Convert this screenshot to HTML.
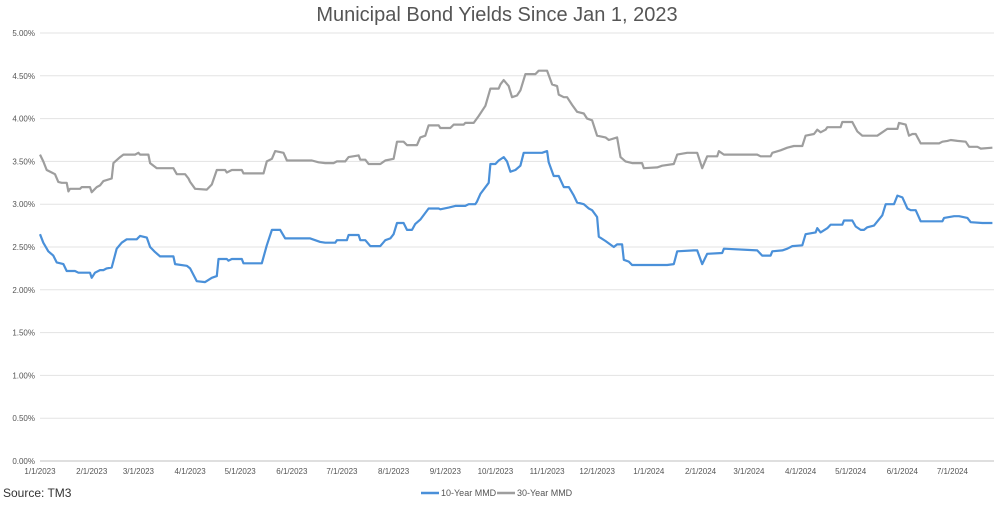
<!DOCTYPE html>
<html><head><meta charset="utf-8"><style>
body{margin:0;background:#fff;font-family:"Liberation Sans",sans-serif}
svg text{font-family:"Liberation Sans",sans-serif}
</style></head><body>
<svg id="c" width="994" height="500">
<text x="497" y="21" text-anchor="middle" font-size="20" fill="#555">Municipal Bond Yields Since Jan 1, 2023</text>
<g id="grid"></g><g id="xt"></g><g id="lines"></g>
<text x="3" y="497" font-size="12" fill="#333">Source: TM3</text>
<g>
<line x1="421" y1="493" x2="439" y2="493" stroke="#4a90d9" stroke-width="2.5"/>
<text x="441" y="496" font-size="9" fill="#555">10-Year MMD</text>
<line x1="497" y1="493" x2="515" y2="493" stroke="#9e9e9e" stroke-width="2.5"/>
<text x="517" y="496" font-size="9" fill="#555">30-Year MMD</text>
</g>
</svg>
<script>
const yTicks=[0,0.5,1,1.5,2,2.5,3,3.5,4,4.5,5];
const xTickDays=[0,31,59,90,120,151,181,212,243,273,304,334,365,396,425,456,486,517,547];
const xTickLabels=["1/1/2023","2/1/2023","3/1/2023","4/1/2023","5/1/2023","6/1/2023","7/1/2023","8/1/2023","9/1/2023","10/1/2023","11/1/2023","12/1/2023","1/1/2024","2/1/2024","3/1/2024","4/1/2024","5/1/2024","6/1/2024","7/1/2024"];
const tenDays=[0,2,5,8,10,14,16,21,23,30,31,33,36,38,40,43,46,49,52,58,60,64,66,69,72,80,81,88,90,94,99,103,106,107,112,113,115,121,122,133,136,139,144,147,162,168,171,177,178,184,185,191,192,195,198,204,207,210,212,214,218,220,223,225,228,233,239,240,245,249,255,257,261,262,264,269,270,273,275,278,280,282,285,288,290,301,304,305,308,311,314,317,320,322,326,329,331,334,335,339,344,346,349,350,353,355,376,380,382,392,394,397,400,409,410,430,433,438,439,445,448,451,457,459,465,466,468,472,474,481,482,487,489,492,494,496,500,505,507,512,514,517,520,522,525,528,541,542,548,551,556,558,565,571];
const tenVals=[2.65,2.55,2.45,2.40,2.32,2.30,2.22,2.22,2.20,2.20,2.14,2.20,2.23,2.23,2.25,2.26,2.48,2.55,2.59,2.59,2.63,2.61,2.50,2.44,2.39,2.39,2.30,2.28,2.25,2.10,2.09,2.14,2.16,2.36,2.36,2.34,2.36,2.36,2.31,2.31,2.52,2.70,2.70,2.60,2.60,2.56,2.55,2.55,2.58,2.58,2.64,2.64,2.58,2.58,2.51,2.51,2.58,2.60,2.65,2.78,2.78,2.70,2.70,2.77,2.82,2.95,2.95,2.94,2.96,2.98,2.98,3.00,3.00,3.03,3.12,3.25,3.47,3.47,3.51,3.55,3.50,3.38,3.40,3.45,3.60,3.60,3.62,3.49,3.33,3.33,3.20,3.20,3.10,3.02,3.00,2.95,2.93,2.85,2.62,2.57,2.50,2.53,2.53,2.35,2.33,2.29,2.29,2.30,2.45,2.46,2.46,2.30,2.42,2.43,2.48,2.46,2.40,2.40,2.45,2.46,2.48,2.51,2.52,2.65,2.67,2.72,2.67,2.72,2.76,2.76,2.81,2.81,2.74,2.70,2.70,2.73,2.75,2.87,3.00,3.00,3.10,3.08,2.95,2.93,2.93,2.80,2.80,2.84,2.86,2.86,2.84,2.79,2.78,2.78];
const thirtyDays=[0,2,4,7,9,11,13,16,17,18,24,25,30,31,34,36,38,43,44,48,50,57,59,60,65,66,70,80,82,87,89,90,93,100,103,106,111,112,115,121,122,134,136,139,141,146,148,163,167,171,176,178,183,185,191,192,195,197,204,207,212,214,218,220,226,228,231,233,239,240,246,248,254,255,260,263,267,270,275,276,278,281,283,286,288,291,297,299,304,307,310,311,314,316,319,322,326,328,331,334,339,341,346,348,351,355,361,362,370,373,380,382,388,392,394,397,400,406,407,410,430,432,438,439,444,448,452,457,459,464,466,468,471,472,480,481,487,490,493,502,505,508,514,515,519,521,523,525,528,539,541,544,546,550,555,557,562,564,571];
const thirtyVals=[3.58,3.50,3.40,3.37,3.35,3.26,3.25,3.25,3.15,3.18,3.18,3.20,3.20,3.14,3.20,3.22,3.27,3.30,3.48,3.55,3.58,3.58,3.60,3.58,3.58,3.48,3.42,3.42,3.35,3.35,3.30,3.26,3.18,3.17,3.23,3.40,3.40,3.37,3.40,3.40,3.36,3.36,3.50,3.53,3.62,3.60,3.51,3.51,3.49,3.48,3.48,3.50,3.50,3.55,3.57,3.52,3.52,3.47,3.47,3.51,3.53,3.73,3.73,3.69,3.69,3.78,3.80,3.92,3.92,3.89,3.89,3.93,3.93,3.95,3.95,4.03,4.15,4.35,4.35,4.40,4.45,4.38,4.25,4.27,4.33,4.52,4.52,4.56,4.56,4.40,4.38,4.28,4.25,4.25,4.16,4.08,4.06,4.00,3.98,3.80,3.78,3.75,3.78,3.55,3.50,3.48,3.48,3.42,3.43,3.45,3.47,3.58,3.60,3.60,3.60,3.42,3.56,3.56,3.62,3.58,3.58,3.56,3.56,3.60,3.63,3.66,3.68,3.68,3.80,3.82,3.87,3.84,3.87,3.90,3.90,3.96,3.96,3.85,3.80,3.80,3.84,3.88,3.88,3.95,3.93,3.80,3.82,3.82,3.71,3.71,3.73,3.74,3.75,3.74,3.73,3.67,3.67,3.65,3.66];
const NS="http://www.w3.org/2000/svg";
const X=d=>40+d*1.668, Y=v=>461-v*85.6;
function mk(t,a,p){const e=document.createElementNS(NS,t);for(const k in a)e.setAttribute(k,a[k]);p.appendChild(e);return e;}
const grid=document.getElementById('grid');
yTicks.forEach(v=>{
 const l=mk('line',{x1:40,x2:994,y1:Y(v),y2:Y(v),stroke:v===0?'#bfbfbf':'#e3e3e3','stroke-width':1},grid);
 
 
 const t=mk('text',{x:35,y:Y(v)+3,'text-anchor':'end','font-size':8,fill:'#555'},grid);
 t.textContent=v.toFixed(2)+'%';
 
 
});
const xt=document.getElementById('xt');
xTickDays.forEach((d,i)=>{
 const t=mk('text',{x:X(d),y:474,'text-anchor':'middle','font-size':8,fill:'#555'},xt);
 t.textContent=xTickLabels[i];
 
 
});
const lines=document.getElementById('lines');
function series(days,vals,col,name){
 const d=days.map((x,i)=>(i?'L':'M')+X(x).toFixed(1)+','+Y(vals[i]).toFixed(1)).join('');
 const p=mk('path',{d:d,fill:'none',stroke:col,'stroke-width':2.2,'stroke-linejoin':'round'},lines);
 
 
}
series(thirtyDays,thirtyVals,'#9e9e9e','line-30-year-mmd');
series(tenDays,tenVals,'#4a90d9','line-10-year-mmd');
</script>
</body></html>
